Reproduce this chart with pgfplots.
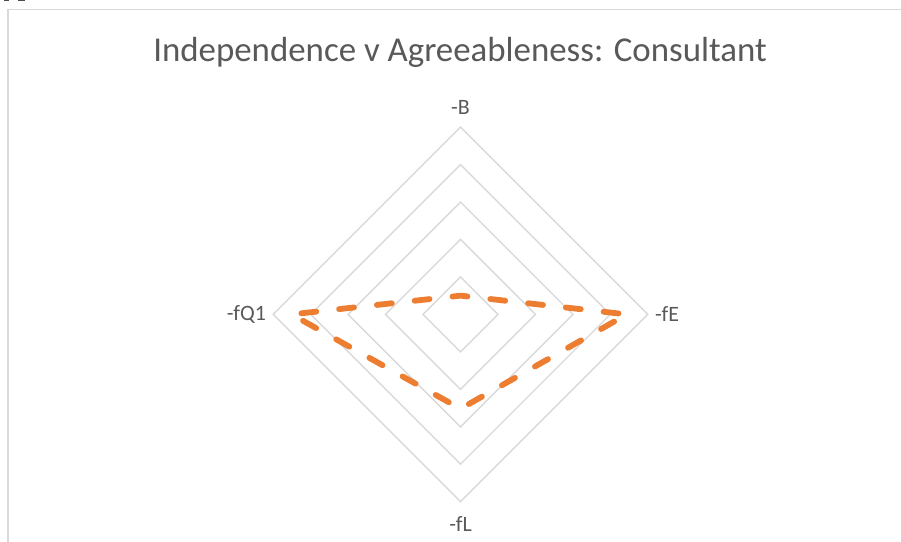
\documentclass[border=0pt]{standalone}
\usepackage{pgfplots}
\pgfplotsset{compat=1.18}
\usepackage{fontspec}
\setmainfont{Carlito}
\definecolor{txtgray}{RGB}{89,89,89}
\definecolor{gridgray}{RGB}{217,217,217}
\definecolor{xlorange}{RGB}{237,125,49}
\begin{document}
\begin{tikzpicture}[x=1bp,y=1bp]
% page and chart frame
\path[use as bounding box, fill=white] (0,0) rectangle (901,542);
\draw[gridgray, line width=1.8bp] (8,0) -- (8,532.5) -- (901,532.5);
\fill[black!70] (4,540.5) rectangle (9,542);
\fill[black!70] (18,540.5) rectangle (25,542);
\node[txtgray, font=\fontsize{35}{40}\selectfont, anchor=base] at (460,480) {Independence v Agreeableness: Consultant};
\begin{axis}[
  at={(460.5bp,227.6bp)}, anchor=origin,
  x=37.46bp, y=37.46bp,
  xmin=-5, xmax=5, ymin=-5, ymax=5,
  hide axis, clip=false,
]
% diamond grid rings
\pgfplotsinvokeforeach{1,2,3,4,5}{
  \addplot[gridgray, line width=1.4bp, forget plot] coordinates {(0,#1) (#1,0) (0,-#1) (-#1,0)} -- cycle;
}
% series: -B (top), -fE (right), -fL (bottom), -fQ1 (left)
\addplot[xlorange, line width=5.8bp, line cap=round, line join=round,
  dash pattern=on 15bp off 23bp, dash phase=8bp] coordinates {
  (0,0.5) (4.44,0) (0,-2.52) (-4.51,0) (0,0.5)
};
% category labels
\node[txtgray, font=\fontsize{22}{26}\selectfont, anchor=south] at (axis cs:0,5.25) {-B};
\node[txtgray, font=\fontsize{22}{26}\selectfont, anchor=west] at (axis cs:5.1,0) {-fE};
\node[txtgray, font=\fontsize{22}{26}\selectfont, anchor=north] at (axis cs:0,-5.3) {-fL};
\node[txtgray, font=\fontsize{22}{26}\selectfont, anchor=east] at (axis cs:-5.1,0) {-fQ1};
\end{axis}
\end{tikzpicture}
\end{document}
